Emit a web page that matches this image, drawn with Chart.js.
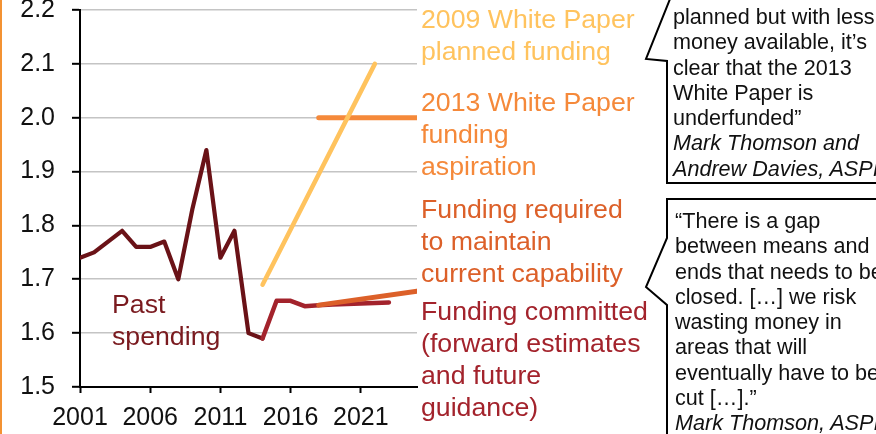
<!DOCTYPE html>
<html>
<head>
<meta charset="utf-8">
<script src="https://cdn.jsdelivr.net/npm/chart.js@4"></script>
<style>
  html, body { margin: 0; padding: 0; background: #fff; }
  body { width: 876px; height: 434px; position: relative; overflow: hidden; font-family: "Liberation Sans", Arial, sans-serif; }
  #chartWrap { position: absolute; left: 0; top: 0; width: 876px; height: 434px; }
  .edge { position: absolute; left: 0; top: 0; width: 2px; height: 434px; background: #f39232; }
  .lbl { position: absolute; font-size: 26.7px; line-height: 32px; white-space: nowrap; }
  .quote { position: absolute; font-size: 21.6px; line-height: 25.3px; color: #111; white-space: nowrap; }
  .quote i { font-style: italic; }
  svg { position: absolute; left: 0; top: 0; }
</style>
</head>
<body>
<div class="edge"></div>
<div id="chartWrap"><canvas id="fundingChart" width="876" height="434"></canvas></div>

<svg width="876" height="434">
  <polyline points="672,-6 646,59 667,61 667,183 880,183" fill="none" stroke="#000" stroke-width="2"/>
  <polyline points="880,199 667,199 667,238 646,287 667,305 667,440" fill="none" stroke="#000" stroke-width="2"/>
</svg>

<div class="lbl" style="left:421px; top:3px; color:#ffc35e;">2009 White Paper<br>planned funding</div>
<div class="lbl" style="left:421px; top:86px; color:#f5893a;">2013 White Paper<br>funding<br>aspiration</div>
<div class="lbl" style="left:421px; top:193px; color:#dc6029;">Funding required<br>to maintain<br>current capability</div>
<div class="lbl" style="left:421px; top:295px; color:#a3232c;">Funding committed<br>(forward estimates<br>and future<br>guidance)</div>
<div class="lbl" style="left:112px; top:288px; color:#7a1a1f;">Past<br>spending</div>

<div class="quote" style="left:673px; top:4px;">planned but with less<br>money available, it’s<br>clear that the 2013<br>White Paper is<br>underfunded”<br><i>Mark Thomson and</i><br><i>Andrew Davies, ASPI</i></div>
<div class="quote" style="left:675px; top:208px;">“There is a gap<br>between means and<br>ends that needs to be<br>closed. […] we risk<br>wasting money in<br>areas that will<br>eventually have to be<br>cut […].”<br><i>Mark Thomson, ASPI</i></div>

<script>
// Defence funding as % of GDP — past spending and projections
const pastYears = [2001, 2002, 2003, 2004, 2005, 2006, 2007, 2008, 2009, 2010, 2011, 2012, 2013, 2014];
const pastValues = [1.74, 1.75, 1.77, 1.79, 1.76, 1.76, 1.77, 1.70, 1.83, 1.94, 1.74, 1.79, 1.60, 1.59];

const committedYears = [2014, 2015, 2016, 2017, 2018, 2019, 2020, 2021, 2022, 2023];
const committedValues = [1.59, 1.66, 1.66, 1.65, 1.652, 1.653, 1.654, 1.655, 1.656, 1.657];

const requiredYears = [2018, 2025];
const requiredValues = [1.652, 1.678];

const aspirationYears = [2018, 2025];
const aspirationValues = [2.0, 2.0];

const plannedYears = [2014, 2022];
const plannedValues = [1.69, 2.10];

const xTickValues = [2001, 2006, 2011, 2016, 2021];

function toPoints(xs, ys) {
  return xs.map((x, i) => ({ x: x, y: ys[i] }));
}

function lineSet(label, xs, ys, color, width) {
  return {
    label,
    data: toPoints(xs, ys),
    borderColor: color,
    backgroundColor: color,
    borderWidth: width,
    pointRadius: 0,
    tension: 0,
    fill: false,
    borderCapStyle: 'round',
    borderJoinStyle: 'round'
  };
}

const tickFont = { family: '"Liberation Sans", Arial, sans-serif', size: 25 };

new Chart(document.getElementById('fundingChart').getContext('2d'), {
  type: 'line',
  data: {
    datasets: [
      lineSet('2009 White Paper planned funding', plannedYears, plannedValues, '#ffc35e', 4.5),
      lineSet('2013 White Paper funding aspiration', aspirationYears, aspirationValues, '#f5893a', 5),
      lineSet('Funding required to maintain current capability', requiredYears, requiredValues, '#dc6029', 5),
      lineSet('Funding committed', committedYears, committedValues, '#a3232c', 4.5),
      lineSet('Past spending', pastYears, pastValues, '#6a1217', 4.2)
    ]
  },
  options: {
    responsive: false,
    animation: false,
    layout: { padding: { top: 10, left: 0, right: 459, bottom: 0 } },
    plugins: { legend: { display: false }, tooltip: { enabled: false } },
    scales: {
      x: {
        type: 'linear',
        min: 2001,
        max: 2025,
        afterBuildTicks: s => { s.ticks = xTickValues.map(v => ({ value: v })); },
        afterFit: s => { s.height = 47; s.paddingLeft = 0; s.paddingRight = 0; },
        border: { color: '#000', width: 2 },
        grid: { drawOnChartArea: false, tickLength: 6, tickColor: '#000', tickWidth: 2 },
        ticks: { autoSkip: false, maxRotation: 0, padding: 10, color: '#111', font: tickFont, callback: v => String(v) }
      },
      y: {
        min: 1.5,
        max: 2.2,
        afterFit: s => { s.width = 80; s.paddingTop = 0; s.paddingBottom = 0; },
        border: { color: '#000', width: 2 },
        grid: { color: '#c4c4c4', lineWidth: 1.6, tickLength: 8, tickColor: '#000', tickWidth: 2 },
        ticks: { stepSize: 0.1, padding: 17, color: '#111', font: tickFont, callback: v => v.toFixed(1) }
      }
    }
  }
});
</script>
</body>
</html>
